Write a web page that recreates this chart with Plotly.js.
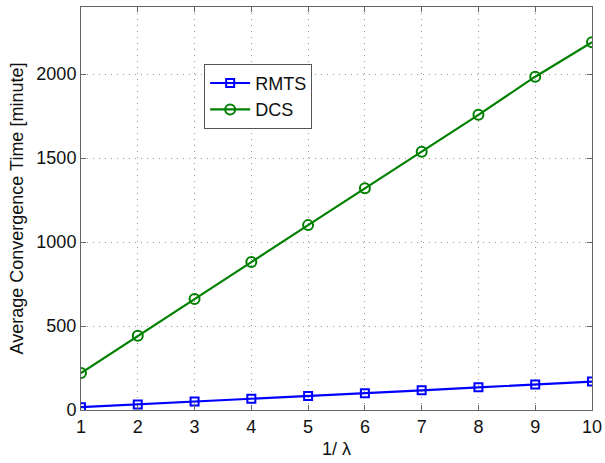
<!DOCTYPE html>
<html><head><meta charset="utf-8">
<script src="https://cdn.plot.ly/plotly-3.0.1.min.js"></script>
<style>body{margin:0;background:#fff}#c{width:605px;height:463px}</style>
</head><body><div id="c"></div>
<script>
const xVals = [1,2,3,4,5,6,7,8,9,10];
const rmts = [17,33,50,67,84,100,117,135,152,169];
const dcs = [220,442,661,881,1101,1321,1538,1758,1985,2190];
const xTicks = [1,2,3,4,5,6,7,8,9,10];
const yTicks = [0,500,1000,1500,2000];

const traces = [
 {x:xVals,y:rmts,name:'RMTS',mode:'lines+markers',line:{color:'#0000ff',width:2.2},
  marker:{symbol:'square-open',size:8,color:'#0000ff',line:{width:2}}},
 {x:xVals,y:dcs,name:'DCS',mode:'lines+markers',line:{color:'#008000',width:2.2},
  marker:{symbol:'circle-open',size:10,color:'#008000',line:{width:2}}}
];
const ax = {showline:true,mirror:'ticks',linecolor:'#666',linewidth:1,ticks:'inside',ticklen:5,tickcolor:'#666',
  showgrid:true,gridcolor:'#999',griddash:'1px,5px',gridwidth:1,zeroline:false,
  tickfont:{family:'Liberation Sans, Arial, sans-serif',size:18,color:'#111'}};
const layout = {
 width:605,height:463,margin:{l:81,r:13,t:7,b:52.5},
 paper_bgcolor:'#fff',plot_bgcolor:'#fff',showlegend:true,
 font:{family:'Liberation Sans, Arial, sans-serif',color:'#111'},
 xaxis:Object.assign({},ax,{range:[1,10],tickvals:xTicks,ticktext:xTicks.map(String),
   title:{text:'1/ λ',font:{size:18},standoff:6}}),
 yaxis:Object.assign({},ax,{range:[0,2400],tickvals:yTicks,ticktext:yTicks.map(String),
   title:{text:'Average Convergence Time [minute]',font:{size:18},standoff:8}}),
 legend:{x:0.241,y:0.859,xanchor:'left',yanchor:'top',bgcolor:'#fff',bordercolor:'#555',borderwidth:1,
   font:{size:18},tracegroupgap:0,itemwidth:40}
};
Plotly.newPlot('c',traces,layout,{displayModeBar:false,staticPlot:true});
</script></body></html>
